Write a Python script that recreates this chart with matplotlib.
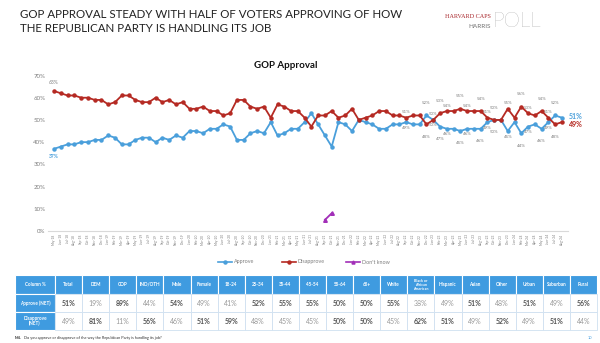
import matplotlib
matplotlib.use("Agg")
import matplotlib.pyplot as plt
from matplotlib.patches import Rectangle
from matplotlib import font_manager
import pandas as pd

# ---------------- data ----------------
months = [d.strftime("%b-%y") for d in pd.date_range("2018-05-01", periods=76, freq="MS")]

approve = [37, 38, 39, 39, 40, 40, 41, 41, 43, 42, 39, 39, 41, 42, 42, 40, 42, 41, 43, 42, 45, 45, 44,
           46, 46, 48, 47, 41, 41, 44, 45, 44, 49, 43, 44, 46, 46, 49, 53, 48, 43, 38,
           49, 48, 45, 50, 49, 48, 46, 46, 48,
           48, 49, 48, 48, 52, 50, 47, 46, 46, 45, 46, 46, 46, 49, 50, 50, 45, 49, 44, 47, 48, 46, 49, 52, 51]
disapprove = [63, 62, 61, 61, 60, 60, 59, 59, 57, 58, 61, 61, 59, 58, 58, 60, 58, 59, 57, 58, 55, 55, 56,
              54, 54, 52, 53, 59, 59, 56, 55, 56, 51, 57, 56, 54, 54, 51, 47, 52, 52, 54,
              51, 52, 55, 50, 51, 52, 54, 54, 52,
              52, 51, 52, 52, 48, 50, 53, 54, 54, 55, 54, 54, 54, 51, 50, 50, 55, 51, 56, 53, 52, 54, 51, 48, 49]
dk_months = ["Sep-21", "Oct-21"]
dont_know = [5, 8]
labeled_months = ["Sep-22", "Dec-22", "Jan-23", "Feb-23", "Mar-23", "May-23", "Jun-23", "Aug-23",
                  "Sep-23", "Oct-23", "Dec-23", "Feb-24", "Mar-24", "May-24", "Jun-24", "Jul-24"]

yticks = [0, 10, 20, 30, 40, 50, 60, 70]

table_cols = ["Column %", "Total", "DEM", "GOP", "IND/OTH", "Male", "Female", "18-24", "25-34", "35-44",
              "45-54", "55-64", "65+", "White", "Black or\nAfrican\nAmerican", "Hispanic", "Asian", "Other",
              "Urban", "Suburban", "Rural"]
row_labels = ["Approve (NET)", "Disapprove\n(NET)"]
approve_row = [51, 19, 89, 44, 54, 49, 41, 52, 55, 55, 50, 50, 55, 38, 49, 51, 48, 51, 49, 56]
disapprove_row = [49, 81, 11, 56, 46, 51, 59, 48, 45, 45, 50, 50, 45, 62, 51, 49, 52, 49, 51, 44]
approve_bold = [1, 0, 1, 0, 1, 0, 0, 1, 1, 1, 1, 1, 1, 0, 0, 1, 0, 1, 0, 1]
disapprove_bold = [0, 1, 0, 1, 0, 1, 1, 0, 0, 0, 1, 1, 0, 1, 1, 0, 1, 0, 1, 0]

# ---------------- style ----------------
BLUE = "#4a9fdb"
RED = "#b52a23"
PURPLE = "#a22fb8"
GRAY = "#7f7f7f"
HDR = "#3f9be0"
FONT = ["Lato", "DejaVu Sans"]
plt.rcParams["font.family"] = FONT

installed = {f.name for f in font_manager.fontManager.ttflist}
TITLE_FONT = ["Liberation Sans Narrow", "Lato"] if "Liberation Sans Narrow" in installed else ["Lato"]

W, H = 600, 343
fig = plt.figure(figsize=(6.0, 3.43), dpi=100)
fig.patch.set_facecolor("white")

ov = fig.add_axes([0, 0, 1, 1])
ov.set_xlim(0, W)
ov.set_ylim(H, 0)
ov.axis("off")

renderer = fig.canvas.get_renderer()
title_lines = ["GOP APPROVAL STEADY WITH HALF OF VOTERS APPROVING OF HOW",
               "THE REPUBLICAN PARTY IS HANDLING ITS JOB"]
t1 = ov.text(20, 9.5, title_lines[0], fontsize=10, color="#222222", va="top", ha="left", family=TITLE_FONT)
w1 = t1.get_window_extent(renderer).width
fs_title = 10 * 380 / w1
t1.set_fontsize(fs_title)
ov.text(20, 23.5, title_lines[1], fontsize=fs_title, color="#222222", va="top", ha="left", family=TITLE_FONT)

ov.text(491, 17, "HARVARD CAPS", fontsize=4.4, color="#a8262b", family="Liberation Serif", ha="right", va="center")
ov.text(491, 26, "HARRIS", fontsize=4.6, color="#6f6f6f", ha="right", va="center")
ov.text(493, 21, "POLL", fontsize=15, color="#8a8a8a", ha="left", va="center", fontweight="light")

# ---------------- chart ----------------
ax = fig.add_axes([48 / W, (H - 231) / H, 520 / W, (231 - 75.5) / H])
x = list(range(len(months)))
ax.plot(x, approve, color=BLUE, lw=1.3, marker="o", ms=2.2, zorder=3)
ax.plot(x, disapprove, color=RED, lw=1.3, marker="o", ms=2.2, zorder=3)
dk_x = [months.index(m) for m in dk_months]
ax.plot(dk_x, dont_know, color=PURPLE, lw=1.3, marker="^", ms=2.6, zorder=3)

ax.set_xlim(-0.9, len(months) - 0.1)
ax.set_ylim(0, 70)
ax.set_yticks(yticks)
ax.set_yticklabels([f"{v}%" for v in yticks], fontsize=4.4, color=GRAY)
ax.set_xticks(x)
ax.set_xticklabels(months, rotation=90, fontsize=2.3, color=GRAY)
ax.tick_params(length=0, pad=2)
for s in ["top", "right", "left"]:
    ax.spines[s].set_visible(False)
ax.spines["bottom"].set_color("#d9d9d9")
ax.spines["bottom"].set_linewidth(0.8)

ov.text(286, 66, "GOP Approval", fontsize=7, fontweight="bold", color="#111111", ha="center", va="center")

ax.annotate(f"{disapprove[0]}%", (0, disapprove[0]), xytext=(0, 4), textcoords="offset points",
            fontsize=3.6, color=GRAY, ha="center", va="bottom")
ax.annotate(f"{approve[0]}%", (0, approve[0]), xytext=(0, -4), textcoords="offset points",
            fontsize=3.6, color=BLUE, ha="center", va="top", fontweight="bold")

for n, m in enumerate(labeled_months):
    i = months.index(m)
    a, d = approve[i], disapprove[i]
    top, bot = (d, a) if d >= a else (a, d)
    off = 2.5 if n % 2 == 0 else 7.5
    ax.annotate(f"{top}%", (i, top), xytext=(0, off), textcoords="offset points",
                fontsize=3.2, color=GRAY, ha="center", va="bottom")
    ax.annotate(f"{bot}%", (i, bot), xytext=(0, -off), textcoords="offset points",
                fontsize=3.2, color=GRAY, ha="center", va="top")

ax.annotate(f"{approve[-1]}%", (x[-1], approve[-1]), xytext=(5, 1), textcoords="offset points",
            fontsize=5, color=BLUE, fontweight="bold", ha="left", va="center", annotation_clip=False)
ax.annotate(f"{disapprove[-1]}%", (x[-1], disapprove[-1]), xytext=(5, -2), textcoords="offset points",
            fontsize=5, color=RED, fontweight="bold", ha="left", va="center", annotation_clip=False)

ov.text(376, 199, "\u201cDon\u2019t know\u201d removed\nas response option in\nNovember 2021",
        fontsize=3.4, color="#222222", ha="left", va="top", linespacing=1.3)

leg_items = [("Approve", BLUE, "o"), ("Disapprove", RED, "o"), ("Don't know", PURPLE, "^")]
leg_x = [218, 282, 346]
for (lab, col, mk), lx in zip(leg_items, leg_x):
    ov.plot([lx, lx + 14], [262, 262], color=col, lw=1.2)
    ov.plot([lx + 7], [262], color=col, marker=mk, ms=2.2)
    ov.text(lx + 16, 262, lab, fontsize=3.9, color=GRAY, ha="left", va="center")

# ---------------- table ----------------
tx0, first_w, col_w = 15, 40, 27.1
row_y = [275, 294, 312, 330]
col_x = [tx0, tx0 + first_w] + [tx0 + first_w + col_w * (k + 1) for k in range(len(approve_row))]

for k, lab in enumerate(table_cols):
    x0, x1 = col_x[k], col_x[k + 1]
    ov.add_patch(Rectangle((x0, row_y[0]), x1 - x0, row_y[1] - row_y[0], facecolor=HDR,
                           edgecolor="white", lw=0.8))
    fs = 2.6 if "\n" in lab else 3.3
    ov.text((x0 + x1) / 2, (row_y[0] + row_y[1]) / 2, lab, fontsize=fs, color="white",
            fontweight="bold", ha="center", va="center", linespacing=1.0)

rows = [(approve_row, approve_bold), (disapprove_row, disapprove_bold)]
for r, (vals, bolds) in enumerate(rows):
    y0, y1 = row_y[r + 1], row_y[r + 2]
    ov.add_patch(Rectangle((col_x[0], y0), first_w, y1 - y0, facecolor=HDR, edgecolor="white", lw=0.8))
    ov.text(col_x[0] + first_w / 2, (y0 + y1) / 2, row_labels[r], fontsize=3.3, color="white",
            fontweight="bold", ha="center", va="center", linespacing=1.0)
    for k, v in enumerate(vals):
        x0, x1 = col_x[k + 1], col_x[k + 2]
        ov.add_patch(Rectangle((x0, y0), x1 - x0, y1 - y0, facecolor="white", edgecolor="#cfe0f0", lw=0.6))
        ov.text((x0 + x1) / 2, (y0 + y1) / 2, f"{v}%", fontsize=5, ha="center", va="center",
                color="#555555" if bolds[k] else "#999999",
                fontweight="bold" if bolds[k] else "normal")

ov.text(15, 338, "M4.", fontsize=2.8, color="#333333", fontweight="bold", ha="left", va="center")
ov.text(24, 338, "Do you approve or disapprove of the way the Republican Party is handling its job?",
        fontsize=2.8, color="#333333", ha="left", va="center")
ov.text(592, 338, "10", fontsize=2.8, color=HDR, ha="right", va="center")

fig.savefig("out.png", dpi=100, facecolor="white")
